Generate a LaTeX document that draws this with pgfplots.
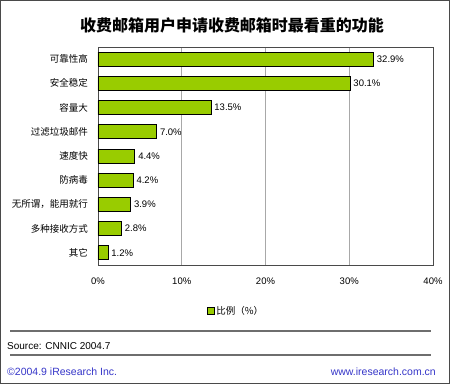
\documentclass[border=0pt]{standalone}
\usepackage{fontspec}
\setmainfont{Liberation Sans}
\newfontfamily\cjk{Noto Sans CJK SC}
\usepackage{pgfplots}
\pgfplotsset{compat=1.18}
\definecolor{barg}{HTML}{99CC00}
\definecolor{bluet}{HTML}{3535C8}
\definecolor{gridg}{HTML}{A8A8A8}
\definecolor{frameg}{HTML}{4A4A4A}
\begin{document}
\begin{tikzpicture}[x=1pt,y=1pt]
\useasboundingbox (0,0) rectangle (450,384);
\draw[frameg, line width=1.2pt] (0.6,0.6) rectangle (449.4,383.4);
\node[font=\cjk\bfseries\fontsize{16}{18}\selectfont] at (232,359) {收费邮箱用户申请收费邮箱时最看重的功能};
\begin{axis}[
  at={(98pt,119pt)}, anchor=south west,
  scale only axis, width=335pt, height=218pt,
  xbar, bar width=14pt,
  xmin=0, xmax=40, ymin=-0.5, ymax=8.5, y dir=reverse,
  xtick={0,10,20,30,40}, xticklabels={0\%,10\%,20\%,30\%,40\%},
  ytick={0,...,8},
  yticklabels={可靠性高,安全稳定,容量大,过滤垃圾邮件,速度快,防病毒,无所谓，能用就行,多种接收方式,其它},
  major tick length=0pt,
  xmajorgrids, grid style={gridg, line width=0.9pt},
  axis line style={frameg, line width=0.9pt},
  xticklabel style={font=\fontsize{9.5}{11}\selectfont, inner sep=0pt, yshift=-13pt},
  yticklabel style={font=\cjk\fontsize{9.5}{11}\selectfont, inner sep=0pt, xshift=-10pt},
  point meta=x,
  nodes near coords={\pgfmathprintnumber[fixed,precision=1,fixed zerofill,assume math mode=true]{\pgfplotspointmeta}\%},
  nodes near coords style={font=\fontsize{9.5}{11}\selectfont, anchor=west, inner sep=0pt, xshift=3pt},
  legend style={at={(0.412,-0.211)}, anchor=center, draw=none, fill=none, font=\cjk\fontsize{9.5}{11}\selectfont, inner sep=0pt},
  legend cell align=left,
]
\addplot[fill=barg, draw=black, line width=0.8pt,
  legend image code/.code={\draw[fill=barg, draw=black, line width=0.7pt] (0pt,-3.5pt) rectangle (7pt,3.5pt);}]
  coordinates {(32.9,0) (30.1,1) (13.5,2) (7.0,3) (4.4,4) (4.2,5) (3.9,6) (2.8,7) (1.2,8)};
\addlegendentry{比例（\%）}
\end{axis}
\draw[frameg!80, line width=1.5pt] (10,53) -- (431,53);
\draw[frameg!80, line width=1.5pt] (10,29) -- (431,29);
\node[anchor=west, inner sep=0pt, font=\fontsize{10}{12}\selectfont] at (7,38) {Source: CNNIC 2004.7};
\node[anchor=west, inner sep=0pt, font=\fontsize{10.5}{12}\selectfont, text=bluet] at (7,12) {©2004.9 iResearch Inc.};
\node[anchor=east, inner sep=0pt, font=\fontsize{10.5}{12}\selectfont, text=bluet] at (436,12) {www.iresearch.com.cn};
\end{tikzpicture}
\end{document}
